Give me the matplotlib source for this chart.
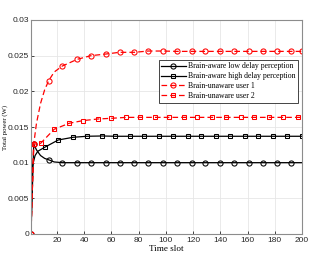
import matplotlib
matplotlib.use("Agg")
import matplotlib.pyplot as plt
import numpy as np

# Data (time slot, total power in W)
t_low = [1, 3, 5, 8, 11, 14, 18, 24, 35, 45, 56, 66, 77, 87, 98, 108, 119, 129, 140, 150, 161, 171, 182, 192, 200]
p_low = [0, 0.0126, 0.0118, 0.0110, 0.0106, 0.0104, 0.0101, 0.0100, 0.0100, 0.0100, 0.0100, 0.0100, 0.0100,
         0.0100, 0.0100, 0.0100, 0.0100, 0.0100, 0.0100, 0.0100, 0.0100, 0.0100, 0.0100, 0.0100, 0.0100]
mk_low = [0, 1, 5, 7, 8, 9, 10, 11, 12, 13, 14, 15, 16, 17, 18, 19, 20, 21, 22, 23]

t_high = [1, 2, 4, 6, 11, 21, 32, 42, 53, 63, 74, 84, 95, 105, 116, 126, 137, 147, 158, 168, 179, 189, 200]
p_high = [0, 0.0095, 0.0110, 0.0116, 0.01215, 0.01318, 0.01356, 0.0137, 0.01374, 0.0137, 0.0137, 0.0137,
          0.0137, 0.0137, 0.0137, 0.0137, 0.0137, 0.0137, 0.0137, 0.0137, 0.0137, 0.0137, 0.0137]
mk_high = [0, 4, 5, 6, 7, 8, 9, 10, 11, 12, 13, 14, 15, 16, 17, 18, 19, 20, 21, 22]

t_u1 = [1, 3, 5, 8, 11, 14, 18, 24, 35, 45, 56, 66, 77, 87, 98, 108, 119, 129, 140, 150, 161, 171, 182, 192, 200]
p_u1 = [0, 0.0126, 0.0155, 0.0183, 0.0202, 0.0215, 0.0227, 0.02355, 0.02449, 0.0250, 0.02523, 0.02547, 0.02547,
        0.02565, 0.02565, 0.0256, 0.0256, 0.0256, 0.0256, 0.0256, 0.0256, 0.0256, 0.0256, 0.0256, 0.0256]
mk_u1 = [0, 1, 5, 7, 8, 9, 10, 11, 12, 13, 14, 15, 16, 17, 18, 19, 20, 21, 22, 23, 24]

t_u2 = [1, 3, 8, 18, 29, 39, 50, 60, 71, 81, 92, 102, 113, 123, 134, 144, 155, 165, 176, 186, 197, 200]
p_u2 = [0, 0.0126, 0.0127, 0.01468, 0.01552, 0.01589, 0.01612, 0.01622, 0.01635, 0.01635, 0.01635, 0.01635,
        0.01635, 0.01635, 0.01635, 0.01635, 0.01635, 0.01635, 0.01635, 0.01635, 0.01635, 0.01635]
mk_u2 = list(range(21))

labels = ["Brain-aware low delay perception", "Brain-aware high delay perception",
          "Brain-unaware user 1", "Brain-unaware user 2"]
xticks = [20, 40, 60, 80, 100, 120, 140, 160, 180, 200]
yticks = [0, 0.005, 0.01, 0.015, 0.02, 0.025, 0.03]
ytick_labels = ["0", "0.005", "0.01", "0.015", "0.02", "0.025", "0.03"]

fig = plt.figure(figsize=(3.36, 2.63), dpi=100)
ax = fig.add_axes([31/336, 1-234/263, (302-31)/336, (234-20)/263])

ms = 3.7
mew = 0.75
ax.plot(t_low, p_low, color="black", lw=0.9, marker="o", ms=ms, mfc="none", mew=mew,
        markevery=mk_low, label=labels[0])
ax.plot(t_high, p_high, color="black", lw=0.9, marker="s", ms=ms - 0.4, mfc="none", mew=mew,
        markevery=mk_high, label=labels[1])
ax.plot(t_u1, p_u1, color="red", lw=0.9, ls=(0, (4.5, 2.5)), marker="o", ms=ms, mfc="none", mew=mew,
        markevery=mk_u1, label=labels[2])
ax.plot(t_u2, p_u2, color="red", lw=0.9, ls=(0, (4.5, 2.5)), marker="s", ms=ms - 0.4, mfc="none", mew=mew,
        markevery=mk_u2, label=labels[3])

ax.set_xlim(1, 200)
ax.set_ylim(0, 0.03)
ax.set_xticks(xticks)
ax.set_yticks(yticks)
ax.set_yticklabels(ytick_labels)
ax.tick_params(direction="in", length=2.5, width=0.6, labelsize=6, colors="#262626", pad=2)
ax.tick_params(axis="y", pad=1.5)
for lab in ax.get_xticklabels() + ax.get_yticklabels():
    lab.set_fontfamily("Liberation Sans")
ax.grid(True, color="#e6e6e6", lw=0.6)
ax.set_axisbelow(True)
for s in ax.spines.values():
    s.set_color("#8c8c8c")
    s.set_linewidth(0.8)

ax.set_xlabel("Time slot", fontfamily="Liberation Serif", fontsize=6.6, labelpad=1)
ax.set_ylabel("Total power (W)", fontfamily="Liberation Serif", fontsize=4.9)
ax.yaxis.set_label_coords((8.0 - 31) / 271, 0.5)

leg = ax.legend(loc="upper right", bbox_to_anchor=(298/336, 1-60/263), bbox_transform=fig.transFigure,
                prop={"family": "Liberation Serif", "size": 5.6}, frameon=True, fancybox=False,
                edgecolor="#262626", framealpha=1, borderpad=0.3, labelspacing=0.25,
                handlelength=3.2, handletextpad=0.3, borderaxespad=0)
leg.get_frame().set_linewidth(0.6)

fig.savefig("out.png", dpi=100)
